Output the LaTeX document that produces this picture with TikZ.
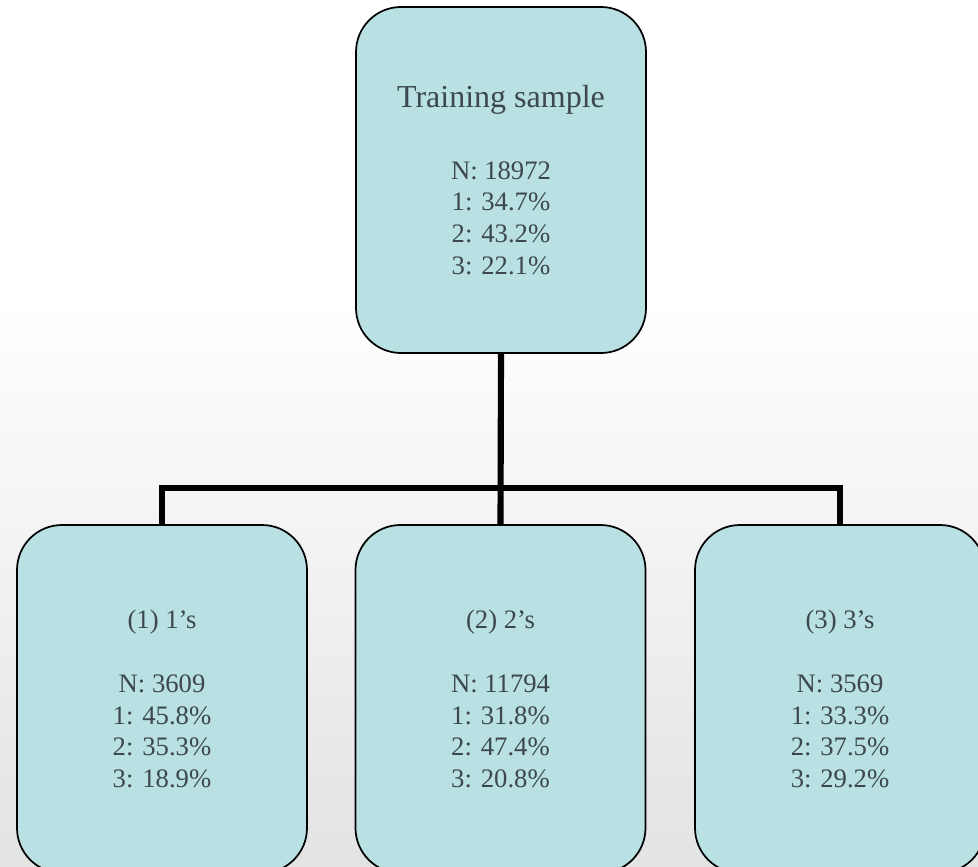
\documentclass[tikz,border=0pt]{standalone}
\usepackage{fontspec}
\setmainfont{Liberation Serif}
\definecolor{boxfill}{RGB}{185,224,227}
\definecolor{txt}{RGB}{60,72,78}
\definecolor{bgbot}{RGB}{226,227,227}
\begin{document}
\begin{tikzpicture}[x=0.75pt,y=-0.75pt,
  nodebox/.style={draw=black,line width=1.3pt,fill=boxfill,rounded corners=33.75pt,
    minimum width=217.5pt,inner sep=0pt,align=center,text=txt,
    font=\fontsize{20}{23.8}\selectfont},
  conn/.style={draw=black,line width=4.6pt,line join=miter}]
\useasboundingbox (0,0) rectangle (978,867);
\clip (0,0) rectangle (978,867);
\fill[white] (0,0) rectangle (978,300);
\shade[top color=white,bottom color=bgbot] (0,299) rectangle (978,867);

\node[nodebox,minimum height=259.5pt] (top) at (501,180)
  {{\fontsize{24}{28}\selectfont Training sample}\\[30pt]N: 18972\\1: 34.7\%\\2: 43.2\%\\3: 22.1\%};
\node[nodebox,minimum height=261pt] (c1) at (162,699)
  {(1) 1’s\\[24.2pt]N: 3609\\1: 45.8\%\\2: 35.3\%\\3: 18.9\%};
\node[nodebox,minimum height=261pt] (c2) at (500.5,699)
  {(2) 2’s\\[24.2pt]N: 11794\\1: 31.8\%\\2: 47.4\%\\3: 20.8\%};
\node[nodebox,minimum height=261pt] (c3) at (840,699)
  {(3) 3’s\\[24.2pt]N: 3569\\1: 33.3\%\\2: 37.5\%\\3: 29.2\%};

\coordinate (bus) at (500,488);
\draw[conn] (top.south) -- (c2.north);
\draw[conn] (c1.north) -- (c1.north |- bus) -- (c3.north |- bus) -- (c3.north);
\end{tikzpicture}
\end{document}
